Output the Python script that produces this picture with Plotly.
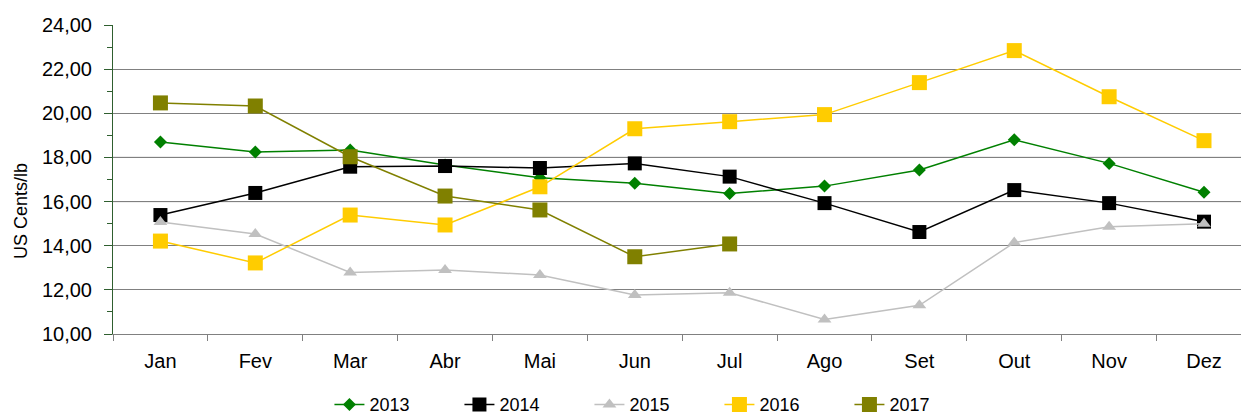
import plotly.graph_objects as go

months = ["Jan", "Fev", "Mar", "Abr", "Mai", "Jun", "Jul", "Ago", "Set", "Out", "Nov", "Dez"]

s2013 = [18.70, 18.25, 18.34, 17.66, 17.08, 16.83, 16.37, 16.70, 17.43, 18.80, 17.73, 16.42]
s2014 = [15.39, 16.39, 17.58, 17.61, 17.52, 17.73, 17.13, 15.93, 14.62, 16.52, 15.93, 15.09]
s2015 = [15.07, 14.53, 12.79, 12.90, 12.67, 11.77, 11.87, 10.66, 11.30, 14.14, 14.86, 15.00]
s2016 = [14.21, 13.22, 15.39, 14.94, 16.67, 19.30, 19.62, 19.94, 21.39, 22.84, 20.75, 18.76]
s2017 = [20.47, 20.33, 18.03, 16.25, 15.62, 13.50, 14.08]

y_ticks = [10, 12, 14, 16, 18, 20, 22, 24]
dark_grid = [16, 18]

series = [
    ("2013", s2013, "#008000", "diamond", 10),
    ("2014", s2014, "#000000", "square", 14),
    ("2015", s2015, "#C0C0C0", "triangle-up", 12),
    ("2016", s2016, "#FFCC00", "square", 15),
    ("2017", s2017, "#808000", "square", 15),
]

fig = go.Figure()
for name, vals, color, symbol, size in series:
    fig.add_trace(go.Scatter(
        x=months[:len(vals)], y=vals, name=name, mode="lines+markers",
        line=dict(color=color, width=1.5),
        marker=dict(symbol=symbol, size=size, color=color, line=dict(width=0)),
    ))

for v in dark_grid:
    fig.add_shape(type="line", xref="paper", x0=0, x1=1, yref="y", y0=v, y1=v,
                  line=dict(color="#000000", width=1), layer="below")

font = "Liberation Sans, Arial, sans-serif"

fig.add_annotation(
    text="US Cents/lb", textangle=-90, showarrow=False,
    xref="paper", yref="paper", x=-0.0815, y=0.398,
    xanchor="center", yanchor="middle",
    font=dict(family=font, size=18, color="#000000"),
)

fig.update_layout(
    width=1241, height=417,
    margin=dict(l=113, r=0, t=25, b=83, autoexpand=False),
    paper_bgcolor="white", plot_bgcolor="white",
    separators=",.",
    font=dict(family=font, size=20, color="#000000"),
    showlegend=True,
    legend=dict(orientation="h", x=0.480, xanchor="center", y=-0.229, yanchor="middle",
                font=dict(family=font, size=18), itemwidth=30,
                entrywidth=85, entrywidthmode="pixels", tracegroupgap=0),
    xaxis=dict(
        type="category", range=[-0.5, 11.39],
        showgrid=False, showline=True, linecolor="#808080", linewidth=1,
        ticks="outside", tickson="boundaries", ticklen=6, tickcolor="#808080",
        tickfont=dict(size=20), ticklabelstandoff=9,
    ),
    yaxis=dict(
        range=[10, 24], tickvals=y_ticks, tickformat=".2f",
        showgrid=True, gridcolor="#808080", gridwidth=1,
        showline=True, linecolor="#2F5F2F", linewidth=1,
        ticks="outside", ticklen=8, tickcolor="#2F5F2F",
        minor=dict(dtick=1, ticks="outside", ticklen=5, tickcolor="#2F5F2F", showgrid=False),
        tickfont=dict(size=20), ticklabelstandoff=8,
        zeroline=False,
    ),
)

fig.write_html("out.html")
